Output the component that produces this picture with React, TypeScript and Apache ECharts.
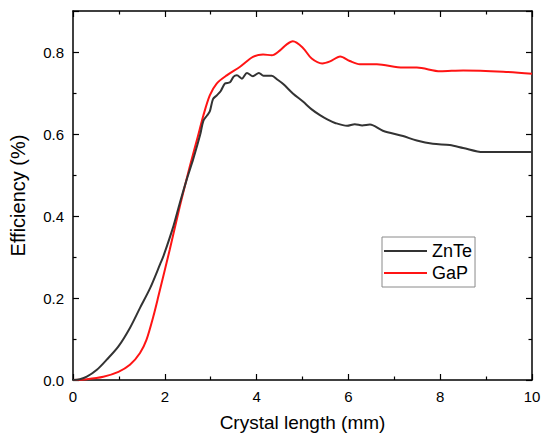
import React, { useEffect, useRef } from "react";
import * as echarts from "echarts";

const seriesNames = ["ZnTe", "GaP"];

const znteData: [number, number][] = [
  [0, 0], [0.15, 0.002], [0.3, 0.008], [0.52, 0.025], [0.73, 0.049], [0.99, 0.082],
  [1.24, 0.127], [1.46, 0.176], [1.68, 0.224], [1.9, 0.283], [1.97, 0.302], [2.19, 0.376],
  [2.33, 0.433], [2.48, 0.49], [2.62, 0.539], [2.77, 0.598], [2.84, 0.632], [2.92, 0.645],
  [2.98, 0.655], [3.05, 0.685], [3.13, 0.694], [3.22, 0.705], [3.31, 0.723], [3.42, 0.726],
  [3.5, 0.74], [3.57, 0.743], [3.68, 0.735], [3.79, 0.749], [3.92, 0.741], [4.05, 0.749],
  [4.15, 0.742], [4.33, 0.742], [4.45, 0.733], [4.58, 0.722], [4.79, 0.699], [5.01, 0.679],
  [5.2, 0.66], [5.38, 0.646], [5.55, 0.635], [5.71, 0.627], [5.97, 0.62], [6.14, 0.624],
  [6.3, 0.621], [6.47, 0.623], [6.75, 0.608], [7.19, 0.595], [7.49, 0.584], [7.84, 0.576],
  [8.21, 0.573], [8.5, 0.566], [8.93, 0.556], [9.2, 0.556], [10, 0.556],
];

const gapData: [number, number][] = [
  [0, 0], [0.3, 0.002], [0.66, 0.008], [0.99, 0.02], [1.24, 0.037], [1.46, 0.066],
  [1.6, 0.098], [1.75, 0.155], [1.86, 0.204], [2.11, 0.319], [2.33, 0.425], [2.55, 0.523],
  [2.72, 0.594], [2.84, 0.645], [2.98, 0.694], [3.13, 0.723], [3.35, 0.743], [3.64, 0.764],
  [3.92, 0.788], [4.14, 0.794], [4.33, 0.792], [4.51, 0.804], [4.65, 0.818], [4.79, 0.826],
  [5.01, 0.81], [5.2, 0.784], [5.43, 0.772], [5.6, 0.777], [5.82, 0.789], [6.03, 0.778],
  [6.25, 0.77], [6.62, 0.77], [7.19, 0.762], [7.49, 0.762], [8.0, 0.753], [8.5, 0.755],
  [9.37, 0.752], [10, 0.747],
];

const xTitle = "Crystal length (mm)";
const yTitle = "Efficiency (%)";

const FONT = "Liberation Sans, Arial, sans-serif";

export default function App() {
  const ref = useRef<HTMLDivElement>(null);
  useEffect(() => {
    document.body.style.margin = "0";
    if (!ref.current) return;
    const chart = echarts.init(ref.current, undefined, { renderer: "svg" });
    const axisLine = { show: true, onZero: false, lineStyle: { color: "#000", width: 1.5 } };
    const tick = { show: true, inside: true, length: 6, lineStyle: { color: "#000", width: 1.2 } };
    const minor = { show: true, splitNumber: 2, length: 3.5, lineStyle: { color: "#000", width: 1.2 } };
    chart.setOption({
      animation: false,
      backgroundColor: "#fff",
      grid: { left: 73, right: 18, top: 11, bottom: 65, containLabel: false },
      legend: {
        orient: "vertical",
        left: 382,
        top: 237,
        data: seriesNames,
        icon: "rect",
        itemWidth: 43,
        itemHeight: 2,
        itemGap: 4,
        padding: [5, 3, 5, 2],
        borderColor: "#8a8a8a",
        borderWidth: 1,
        textStyle: { fontFamily: FONT, fontSize: 18, color: "#000", lineHeight: 18 },
      },
      xAxis: [
        {
          type: "value",
          min: 0,
          max: 10,
          interval: 2,
          position: "bottom",
          name: xTitle,
          nameLocation: "middle",
          nameGap: 33,
          nameTextStyle: { fontFamily: FONT, fontSize: 19, color: "#000" },
          axisLine,
          axisTick: tick,
          minorTick: minor,
          splitLine: { show: false },
          axisLabel: { fontFamily: FONT, fontSize: 15, color: "#000", margin: 9 },
        },
        {
          type: "value",
          min: 0,
          max: 10,
          interval: 2,
          position: "top",
          axisLine,
          axisTick: tick,
          minorTick: minor,
          splitLine: { show: false },
          axisLabel: { show: false },
        },
      ],
      yAxis: [
        {
          type: "value",
          min: 0,
          max: 0.9,
          interval: 0.2,
          position: "left",
          name: yTitle,
          nameLocation: "middle",
          nameGap: 45,
          nameTextStyle: { fontFamily: FONT, fontSize: 20, color: "#000" },
          axisLine,
          axisTick: tick,
          minorTick: minor,
          splitLine: { show: false },
          axisLabel: {
            fontFamily: FONT,
            fontSize: 15,
            color: "#000",
            margin: 9,
            showMaxLabel: false,
            formatter: (v: number) => v.toFixed(1),
          },
        },
        {
          type: "value",
          min: 0,
          max: 0.9,
          interval: 0.2,
          position: "right",
          axisLine,
          axisTick: tick,
          minorTick: minor,
          splitLine: { show: false },
          axisLabel: { show: false },
        },
      ],
      series: [
        {
          name: seriesNames[0],
          type: "line",
          data: znteData,
          smooth: 0.3,
          symbol: "none",
          lineStyle: { color: "#333333", width: 2 },
          itemStyle: { color: "#333333" },
          z: 3,
        },
        {
          name: seriesNames[1],
          type: "line",
          data: gapData,
          smooth: 0.3,
          symbol: "none",
          lineStyle: { color: "#ff1414", width: 2 },
          itemStyle: { color: "#ff1414" },
          z: 2,
        },
      ],
    });
    return () => chart.dispose();
  }, []);
  return <div ref={ref} style={{ width: 550, height: 445 }} />;
}
